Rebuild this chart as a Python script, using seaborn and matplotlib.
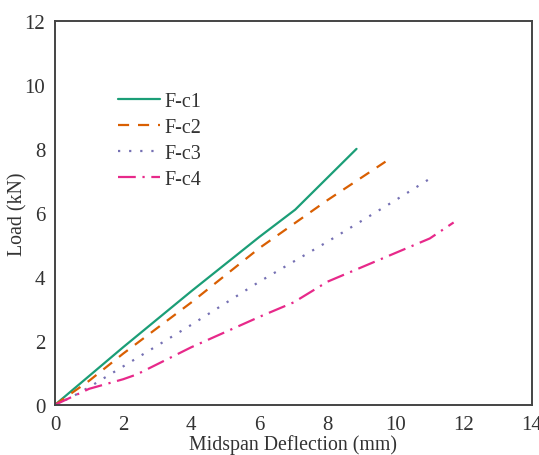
import matplotlib
matplotlib.use('Agg')
import matplotlib.pyplot as plt
from matplotlib.ticker import MultipleLocator
import pandas as pd
import seaborn as sns

# load-deflection curves
fc1_x = [0, 0.5, 2.0, 4.0, 6.0, 7.05, 8.85]
fc1_y = [0, 0.45, 1.8, 3.55, 5.25, 6.1, 8.0]

fc2_x = [0, 1.0, 2.0, 4.0, 6.0, 8.0, 9.7]
fc2_y = [0, 0.75, 1.6, 3.2, 4.9, 6.4, 7.6]

fc3_x = [0, 0.5, 1.0, 2.0, 4.0, 6.0, 8.0, 10.0, 11.05]
fc3_y = [0, 0.25, 0.55, 1.2, 2.5, 3.85, 5.1, 6.4, 7.1]

fc4_x = [0, 0.5, 1.0, 2.0, 2.4, 4.0, 6.0, 7.0, 8.0, 9.0, 10.0, 11.0, 11.7]
fc4_y = [0, 0.25, 0.5, 0.8, 0.95, 1.8, 2.75, 3.2, 3.85, 4.3, 4.75, 5.2, 5.7]

labels = ['F-c1', 'F-c2', 'F-c3', 'F-c4']

sns.set_style('white')
plt.rcParams['font.family'] = ['Liberation Serif', 'DejaVu Serif']

colors = sns.color_palette('Dark2', 4)
styles = ['-', (0, (5, 4)), (0, (1, 4)), (0, (8, 3, 1, 3))]

fig, ax = plt.subplots(figsize=(5.39, 4.56), dpi=100)
fig.subplots_adjust(left=0.102, right=0.987, top=0.952, bottom=0.11)

series = [(fc1_x, fc1_y), (fc2_x, fc2_y), (fc3_x, fc3_y), (fc4_x, fc4_y)]
for (xs, ys), lab, c, ls in zip(series, labels, colors, styles):
    df = pd.DataFrame({'x': xs, 'y': ys})
    sns.lineplot(data=df, x='x', y='y', ax=ax, color=c, label=lab,
                 linestyle=ls, linewidth=1.6, sort=False, estimator=None)

ax.set_xlim(0, 14)
ax.set_ylim(0, 12)
ax.xaxis.set_major_locator(MultipleLocator(2))
ax.xaxis.set_minor_locator(MultipleLocator(1))
ax.yaxis.set_major_locator(MultipleLocator(2))
ax.yaxis.set_minor_locator(MultipleLocator(1))
ax.tick_params(which='major', direction='in', length=6, width=1.3, color='#333333',
               labelsize=15, labelcolor='#333333', pad=7)
ax.tick_params(which='minor', direction='in', length=3, width=1.1, color='#333333')

for sp in ax.spines.values():
    sp.set_color('#444444')
    sp.set_linewidth(1.4)

ax.set_xlabel('Midspan Deflection (mm)', fontsize=14.3, color='#333333')
ax.set_ylabel('Load (kN)', fontsize=14.3, color='#333333')
ax.xaxis.set_label_coords(0.5, -0.075, transform=ax.transAxes)
ax.yaxis.set_label_coords(-0.077, 0.5, transform=ax.transAxes)
ax.xaxis.label.set_va('top')
ax.yaxis.label.set_va('center')

leg = ax.legend(loc='upper left', bbox_to_anchor=(0.115, 0.835), frameon=False,
                fontsize=14.5, handlelength=2.1, handletextpad=0.2, labelspacing=0.33,
                borderaxespad=0)
for t in leg.get_texts():
    t.set_color('#333333')

plt.savefig('out.png', dpi=100)
